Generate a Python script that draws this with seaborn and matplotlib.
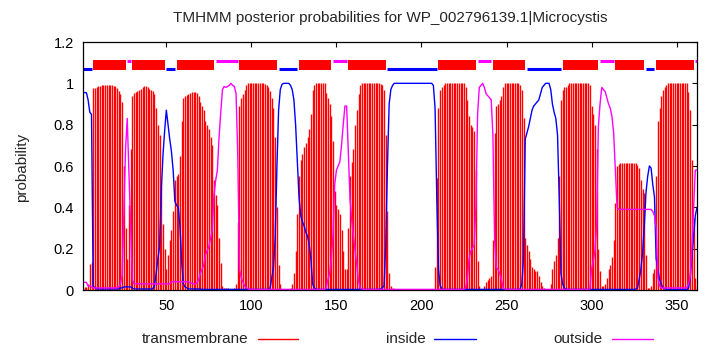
import matplotlib
matplotlib.use("Agg")
import matplotlib.pyplot as plt
import seaborn as sns
import pandas as pd
from matplotlib.lines import Line2D

title = "TMHMM posterior probabilities for WP_002796139.1|Microcystis"
series_names = ["transmembrane", "inside", "outside"]
xtick_values = [50, 100, 150, 200, 250, 300, 350]
ytick_values = [0, 0.2, 0.4, 0.6, 0.8, 1.0, 1.2]
ytick_labels = ["0", "0.2", "0.4", "0.6", "0.8", "1", "1.2"]

residues = list(range(1, 363))

tm = [
    0.01, 0.015, 0.015, 0.03, 0.125, 0.135, 0.976, 0.976, 0.98, 0.985,
    0.988, 0.99, 0.99, 0.99, 0.99, 0.99, 0.99, 0.99, 0.988, 0.985,
    0.976, 0.965, 0.95, 0.91, 0.60, 0.30, 0.15, 0.41, 0.68, 0.94,
    0.955, 0.96, 0.965, 0.97, 0.975, 0.98, 0.985, 0.985, 0.98, 0.975,
    0.97, 0.965, 0.95, 0.88, 0.80, 0.75, 0.50, 0.32, 0.20, 0.10,
    0.17, 0.24, 0.29, 0.38, 0.53, 0.55, 0.56, 0.65, 0.82, 0.93,
    0.94, 0.945, 0.95, 0.955, 0.957, 0.96, 0.958, 0.955, 0.94, 0.91,
    0.89, 0.87, 0.82, 0.80, 0.78, 0.74, 0.70, 0.53, 0.46, 0.41,
    0.25, 0.13, 0.02, 0.01, 0.01, 0.01, 0.005, 0.003, 0.005, 0.01,
    0.03, 0.33, 0.89, 0.93, 0.95, 0.97, 0.99, 1.0, 1.0, 1.0,
    1.0, 1.0, 1.0, 1.0, 1.0, 1.0, 1.0, 0.995, 0.99, 0.98,
    0.965, 0.93, 0.88, 0.74, 0.40, 0.12, 0.03, 0.005, 0.002, 0.002,
    0.002, 0.003, 0.01, 0.03, 0.08, 0.19, 0.37, 0.55, 0.63, 0.66,
    0.69, 0.71, 0.74, 0.78, 0.85, 0.97, 0.99, 1.0, 1.0, 1.0,
    1.0, 1.0, 1.0, 0.955, 0.93, 0.90, 0.84, 0.72, 0.48, 0.41,
    0.39, 0.37, 0.29, 0.19, 0.10, 0.10, 0.30, 0.55, 0.62, 0.68,
    0.80, 0.87, 0.95, 0.99, 1.0, 1.0, 1.0, 1.0, 1.0, 1.0,
    1.0, 1.0, 1.0, 1.0, 1.0, 0.995, 0.99, 0.97, 0.75, 0.38,
    0.08, 0.02, 0.01, 0.005, 0.002, 0.0, 0.0, 0.0, 0.0, 0.0,
    0.0, 0.0, 0.0, 0.0, 0.0, 0.0, 0.0, 0.0, 0.0, 0.0,
    0.0, 0.0, 0.0, 0.0, 0.0, 0.0, 0.005, 0.11, 0.54, 0.88,
    0.97, 0.98, 0.99, 1.0, 1.0, 1.0, 1.0, 1.0, 1.0, 1.0,
    1.0, 1.0, 1.0, 1.0, 1.0, 0.98, 0.92, 0.84, 0.80, 0.79,
    0.77, 0.58, 0.14, 0.02, 0.005, 0.003, 0.02, 0.04, 0.05, 0.06,
    0.07, 0.24, 0.76, 0.89, 0.90, 0.92, 0.94, 0.98, 1.0, 1.0,
    1.0, 1.0, 1.0, 1.0, 1.0, 1.0, 1.0, 0.99, 0.97, 0.83,
    0.25, 0.22, 0.19, 0.15, 0.11, 0.10, 0.09, 0.09, 0.07, 0.04,
    0.02, 0.01, 0.005, 0.003, 0.005, 0.03, 0.10, 0.14, 0.17, 0.25,
    0.55, 0.92, 0.97, 0.98, 0.98, 0.99, 1.0, 1.0, 1.0, 1.0,
    1.0, 1.0, 1.0, 1.0, 1.0, 1.0, 1.0, 1.0, 0.99, 0.89,
    0.85, 0.80, 0.68, 0.20, 0.09, 0.02, 0.02, 0.03, 0.06, 0.10,
    0.12, 0.16, 0.24, 0.42, 0.60, 0.61, 0.613, 0.613, 0.613, 0.613,
    0.613, 0.613, 0.613, 0.613, 0.613, 0.613, 0.605, 0.59, 0.53, 0.49,
    0.47, 0.17, 0.01, 0.01, 0.02, 0.08, 0.10, 0.55, 0.82, 0.88,
    0.94, 0.97, 0.98, 0.99, 1.0, 1.0, 1.0, 1.0, 1.0, 1.0,
    1.0, 1.0, 1.0, 1.0, 1.0, 1.0, 0.96, 0.87, 0.63, 0.35,
    0.06, 0.02,
]

inside = [
    0.955, 0.955, 0.955, 0.92, 0.86, 0.85, 0.02, 0.01, 0.005, 0.005,
    0.005, 0.005, 0.005, 0.005, 0.005, 0.005, 0.005, 0.005, 0.005, 0.005,
    0.005, 0.005, 0.01, 0.01, 0.015, 0.015, 0.015, 0.015, 0.015, 0.01,
    0.005, 0.005, 0.005, 0.005, 0.005, 0.005, 0.005, 0.005, 0.005, 0.005,
    0.005, 0.005, 0.02, 0.08, 0.15, 0.21, 0.47, 0.65, 0.77, 0.87,
    0.80, 0.73, 0.67, 0.58, 0.43, 0.41, 0.40, 0.31, 0.14, 0.03,
    0.015, 0.01, 0.005, 0.005, 0.005, 0.005, 0.005, 0.005, 0.005, 0.005,
    0.003, 0.003, 0.003, 0.003, 0.003, 0.003, 0.003, 0.003, 0.003, 0.003,
    0.003, 0.003, 0.003, 0.003, 0.003, 0.003, 0.003, 0.003, 0.003, 0.003,
    0.003, 0.003, 0.003, 0.003, 0.003, 0.003, 0.003, 0.003, 0.003, 0.003,
    0.003, 0.003, 0.003, 0.003, 0.003, 0.003, 0.003, 0.003, 0.003, 0.003,
    0.01, 0.06, 0.11, 0.25, 0.59, 0.87, 0.97, 0.995, 1.0, 1.0,
    1.0, 1.0, 0.99, 0.97, 0.92, 0.80, 0.62, 0.45, 0.36, 0.33,
    0.31, 0.28, 0.26, 0.22, 0.15, 0.03, 0.01, 0.005, 0.003, 0.003,
    0.003, 0.003, 0.003, 0.003, 0.003, 0.003, 0.003, 0.003, 0.003, 0.003,
    0.003, 0.003, 0.003, 0.003, 0.003, 0.003, 0.003, 0.003, 0.003, 0.003,
    0.003, 0.003, 0.003, 0.003, 0.003, 0.003, 0.003, 0.003, 0.003, 0.003,
    0.003, 0.003, 0.003, 0.003, 0.003, 0.005, 0.01, 0.02, 0.22, 0.60,
    0.90, 0.97, 0.99, 1.0, 1.0, 1.0, 1.0, 1.0, 1.0, 1.0,
    1.0, 1.0, 1.0, 1.0, 1.0, 1.0, 1.0, 1.0, 1.0, 1.0,
    1.0, 1.0, 1.0, 1.0, 1.0, 1.0, 0.99, 0.88, 0.45, 0.10,
    0.02, 0.005, 0.003, 0.003, 0.003, 0.003, 0.003, 0.003, 0.003, 0.003,
    0.003, 0.003, 0.003, 0.003, 0.003, 0.003, 0.003, 0.003, 0.003, 0.003,
    0.003, 0.003, 0.003, 0.003, 0.003, 0.003, 0.003, 0.003, 0.003, 0.003,
    0.003, 0.003, 0.003, 0.003, 0.003, 0.003, 0.003, 0.003, 0.003, 0.003,
    0.003, 0.003, 0.003, 0.003, 0.003, 0.003, 0.003, 0.003, 0.03, 0.15,
    0.73, 0.76, 0.79, 0.83, 0.87, 0.89, 0.90, 0.91, 0.92, 0.95,
    0.98, 0.99, 1.0, 1.0, 1.0, 0.97, 0.90, 0.86, 0.83, 0.75,
    0.45, 0.08, 0.03, 0.01, 0.005, 0.003, 0.003, 0.003, 0.003, 0.003,
    0.003, 0.003, 0.003, 0.003, 0.003, 0.003, 0.003, 0.003, 0.003, 0.003,
    0.003, 0.003, 0.003, 0.003, 0.003, 0.003, 0.003, 0.003, 0.003, 0.003,
    0.003, 0.003, 0.003, 0.003, 0.003, 0.003, 0.003, 0.003, 0.003, 0.003,
    0.003, 0.003, 0.003, 0.003, 0.003, 0.005, 0.01, 0.05, 0.10, 0.18,
    0.31, 0.47, 0.55, 0.60, 0.59, 0.51, 0.45, 0.15, 0.10, 0.05,
    0.03, 0.01, 0.005, 0.003, 0.003, 0.003, 0.003, 0.003, 0.003, 0.003,
    0.003, 0.003, 0.003, 0.003, 0.003, 0.003, 0.01, 0.06, 0.16, 0.26,
    0.36, 0.40,
]

outside = [
    0.037, 0.037, 0.037, 0.02, 0.02, 0.015, 0.01, 0.01, 0.01, 0.01,
    0.01, 0.01, 0.01, 0.01, 0.01, 0.01, 0.01, 0.01, 0.01, 0.01,
    0.01, 0.015, 0.03, 0.07, 0.36, 0.68, 0.83, 0.57, 0.30, 0.05,
    0.03, 0.03, 0.03, 0.03, 0.03, 0.03, 0.03, 0.03, 0.03, 0.03,
    0.03, 0.03, 0.03, 0.03, 0.03, 0.03, 0.03, 0.03, 0.03, 0.03,
    0.03, 0.03, 0.04, 0.04, 0.04, 0.04, 0.04, 0.04, 0.04, 0.04,
    0.04, 0.04, 0.04, 0.035, 0.033, 0.03, 0.03, 0.035, 0.05, 0.08,
    0.10, 0.12, 0.17, 0.19, 0.21, 0.25, 0.29, 0.46, 0.53, 0.58,
    0.74, 0.86, 0.97, 0.985, 0.98, 0.985, 0.99, 1.0, 0.99, 0.985,
    0.95, 0.65, 0.10, 0.06, 0.04, 0.02, 0.01, 0.005, 0.003, 0.003,
    0.003, 0.003, 0.003, 0.003, 0.003, 0.003, 0.003, 0.003, 0.003, 0.003,
    0.003, 0.003, 0.003, 0.003, 0.003, 0.003, 0.003, 0.003, 0.003, 0.003,
    0.003, 0.003, 0.003, 0.003, 0.003, 0.003, 0.003, 0.003, 0.003, 0.003,
    0.003, 0.003, 0.003, 0.003, 0.003, 0.003, 0.003, 0.003, 0.003, 0.003,
    0.003, 0.003, 0.003, 0.01, 0.05, 0.08, 0.15, 0.27, 0.51, 0.58,
    0.60, 0.62, 0.70, 0.80, 0.89, 0.89, 0.66, 0.44, 0.34, 0.26,
    0.19, 0.12, 0.04, 0.01, 0.005, 0.003, 0.003, 0.003, 0.003, 0.003,
    0.003, 0.003, 0.003, 0.003, 0.003, 0.003, 0.003, 0.003, 0.003, 0.003,
    0.003, 0.003, 0.003, 0.003, 0.003, 0.003, 0.003, 0.003, 0.003, 0.003,
    0.003, 0.003, 0.003, 0.003, 0.003, 0.003, 0.003, 0.003, 0.003, 0.003,
    0.003, 0.003, 0.003, 0.003, 0.003, 0.003, 0.003, 0.003, 0.003, 0.003,
    0.003, 0.003, 0.003, 0.003, 0.003, 0.003, 0.003, 0.003, 0.003, 0.003,
    0.003, 0.003, 0.003, 0.003, 0.003, 0.01, 0.06, 0.15, 0.19, 0.20,
    0.22, 0.40, 0.85, 0.98, 0.99, 1.0, 0.98, 0.95, 0.94, 0.93,
    0.92, 0.75, 0.24, 0.11, 0.10, 0.08, 0.05, 0.01, 0.005, 0.003,
    0.003, 0.003, 0.003, 0.003, 0.003, 0.003, 0.003, 0.003, 0.003, 0.003,
    0.003, 0.003, 0.003, 0.003, 0.003, 0.003, 0.003, 0.003, 0.003, 0.003,
    0.003, 0.003, 0.003, 0.003, 0.003, 0.003, 0.003, 0.003, 0.003, 0.003,
    0.003, 0.003, 0.003, 0.003, 0.003, 0.003, 0.003, 0.003, 0.003, 0.003,
    0.003, 0.003, 0.003, 0.003, 0.003, 0.003, 0.003, 0.003, 0.003, 0.10,
    0.14, 0.19, 0.31, 0.79, 0.90, 0.98, 0.97, 0.96, 0.93, 0.90,
    0.88, 0.84, 0.76, 0.58, 0.40, 0.39, 0.39, 0.39, 0.39, 0.39,
    0.39, 0.39, 0.39, 0.39, 0.39, 0.39, 0.39, 0.39, 0.39, 0.39,
    0.39, 0.39, 0.39, 0.39, 0.39, 0.38, 0.36, 0.30, 0.06, 0.02,
    0.01, 0.01, 0.01, 0.01, 0.01, 0.01, 0.01, 0.01, 0.01, 0.01,
    0.01, 0.01, 0.01, 0.01, 0.01, 0.01, 0.03, 0.06, 0.21, 0.39,
    0.58, 0.58,
]

# predicted topology segments (start, end residue)
topo_inside = [(1, 6), (50, 55), (116, 127), (180, 209), (262, 282), (332, 337)]
topo_tm = [(7, 26), (30, 49), (56, 78), (93, 115), (128, 147), (157, 179),
           (210, 232), (242, 261), (283, 304), (314, 331), (338, 360)]
topo_outside = [(27, 29), (79, 92), (148, 156), (233, 241), (305, 313), (361, 362)]

df = pd.DataFrame({"residue": residues, "transmembrane": tm,
                   "inside": inside, "outside": outside})

sns.set_style("white")
plt.rcParams["font.family"] = ["Liberation Sans", "DejaVu Sans"]

RED, BLUE, MAG = "#ff0000", "#0000ff", "#ff00ff"

fig = plt.figure(figsize=(7.1, 3.5), dpi=100)
ax = fig.add_axes([83 / 710, 60 / 350, 614 / 710, 248 / 350])

ax.vlines(df["residue"], 0, df["transmembrane"], color=RED, lw=1.0)
sns.lineplot(data=df, x="residue", y="inside", ax=ax, color=BLUE, lw=1.0,
             estimator=None, legend=False)
sns.lineplot(data=df, x="residue", y="outside", ax=ax, color=MAG, lw=1.0,
             estimator=None, legend=False)

for s, e in topo_tm:
    ax.hlines(1.088, s, e, color=RED, lw=7.2, capstyle="butt")
for s, e in topo_inside:
    ax.hlines(1.067, s, e, color=BLUE, lw=2.2, capstyle="butt")
for s, e in topo_outside:
    ax.hlines(1.110, s, e, color=MAG, lw=2.2, capstyle="butt")

ax.set_xlim(1, 362)
ax.set_ylim(0, 1.2)
ax.set_xticks(xtick_values)
ax.set_yticks(ytick_values)
ax.set_yticklabels(ytick_labels)
ax.set_xlabel("")
ax.set_ylabel("")
ax.tick_params(direction="in", top=True, right=True, length=3.5, width=0.8,
               labelsize=10.5, pad=6.5, colors="black")
for sp in ax.spines.values():
    sp.set_color("black")
    sp.set_linewidth(0.9)

fig.text(390 / 710, 1 - 18 / 350, title, ha="center", va="center", fontsize=11)
fig.text(22 / 710, 1 - 167 / 350, "probability", rotation=90,
         ha="center", va="center", fontsize=11)

legend_items = [(series_names[0], RED, 248, 258, 298),
                (series_names[1], BLUE, 426, 434, 476),
                (series_names[2], MAG, 603, 612, 653)]
ly = 1 - 339 / 350
for name, col, tx, x0, x1 in legend_items:
    fig.text(tx / 710, ly, name, ha="right", va="center", fontsize=11)
    fig.add_artist(Line2D([x0 / 710, x1 / 710], [ly, ly], color=col, lw=1.0,
                          transform=fig.transFigure))

fig.savefig("out.png", dpi=100)
